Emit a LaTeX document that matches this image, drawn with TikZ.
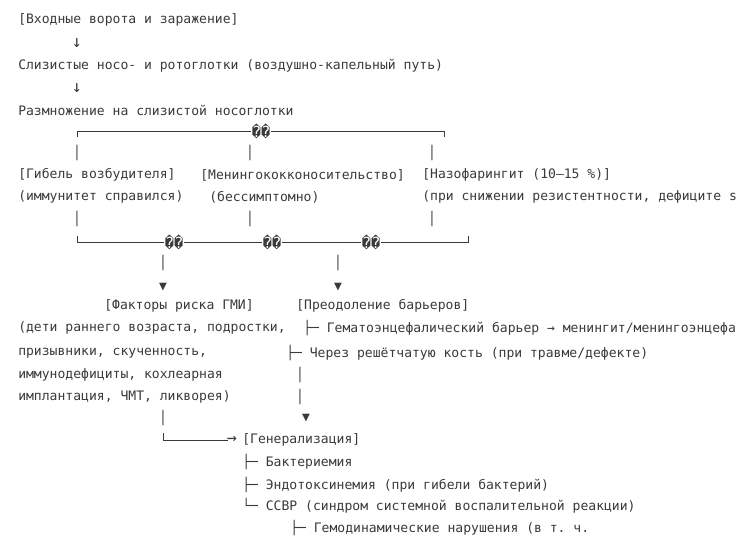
\documentclass[tikz,border=0pt]{standalone}
\usepackage{fontspec}
\setmonofont{DejaVu Sans Mono}
\definecolor{ink}{HTML}{3A3A3A}
\tikzset{
  txt/.style={anchor=west, inner sep=0pt, text=ink, font=\ttfamily\fontsize{9.8}{12}\selectfont},
  sym/.style={txt, anchor=center},
  big/.style={sym, font=\ttfamily\fontsize{12.5}{14}\selectfont},
  bad/.style={sym, fill=white, inner xsep=0.5pt, font=\ttfamily\fontsize{11.5}{14}\selectfont},
  wire/.style={draw=ink, line width=0.5pt}
}
\newcommand{\qq}{\symbol{"FFFD}\symbol{"FFFD}}
\begin{document}
\begin{tikzpicture}[x=0.75pt, y=-0.75pt]
    \useasboundingbox (0,0) rectangle (737,545);
    % entry
    \node[txt] (gate) at (18,20) {[Входные ворота и заражение]};
    \node[big] (a1) at (77,43) {↓};
    \node[txt] (muc) at (18,66) {Слизистые носо- и ротоглотки (воздушно-капельный путь)};
    \node[big] (a2) at (77,88) {↓};
    \node[txt] (mult) at (18,110) {Размножение на слизистой носоглотки};
    % upper fork
    \draw[wire] (77,137) -- (77,131) -- (444,131) -- (444,137);
    \node[bad] (q0) at (261,131) {\qq};
    \foreach \x in {77,250,432} \node[sym] at (\x,153) {│};
    \node[txt] (death) at (18,175) {[Гибель возбудителя]};
    \node[txt] (carr) at (200,175) {[Менингококконосительство]};
    \node[txt] (naso) at (422,175) {[Назофарингит (10–15 \%)]};
    \node[txt] (death2) at (18,197) {(иммунитет справился)};
    \node[txt] (carr2) at (209,197) {(бессимптомно)};
    \node[txt] (naso2) at (422,197) {(при снижении резистентности, дефиците s};
    \foreach \x in {77,250,432} \node[sym] at (\x,219) {│};
    % lower join
    \draw[wire] (77,236) -- (77,242) -- (468,242) -- (468,236);
    \foreach \x in {174,272,371} \node[bad] at (\x,242) {\qq};
    \foreach \x in {163,338} {
      \node[sym] at (\x,263) {│};
      \node[sym] at (\x,287) {▼};
    }
    % risk factors
    \node[txt] (risk) at (104,306) {[Факторы риска ГМИ]};
    \node[txt] (r1) at (18,328) {(дети раннего возраста, подростки,};
    \node[txt] (r2) at (18,353) {призывники, скученность,};
    \node[txt] (r3) at (18,375) {иммунодефициты, кохлеарная};
    \node[txt] (r4) at (18,397) {имплантация, ЧМТ, ликворея)};
    \node[sym] at (163,418) {│};
    % barriers
    \node[txt] (bar) at (296,306) {[Преодоление барьеров]};
    \node[txt] (b1) at (303,328) {├─ Гематоэнцефалический барьер → менингит/менингоэнцефа};
    \node[txt] (b2) at (286,353) {├─ Через решётчатую кость (при травме/дефекте)};
    \node[sym] at (300,375) {│};
    \node[sym] at (300,397) {│};
    \node[sym] at (306,418) {▼};
    % generalisation
    \draw[wire] (163,433) -- (163,440) -- (228,440);
    \node[big] (arr) at (232,440) {→};
    \node[txt] (gen) at (242,440) {[Генерализация]};
    \node[txt] (g1) at (242,462) {├─ Бактериемия};
    \node[txt] (g2) at (242,485) {├─ Эндотоксинемия (при гибели бактерий)};
    \node[txt] (g3) at (242,506) {└─ ССВР (синдром системной воспалительной реакции)};
    \node[txt] (g4) at (290,528) {├─ Гемодинамические нарушения (в т. ч.};
\end{tikzpicture}
\end{document}
